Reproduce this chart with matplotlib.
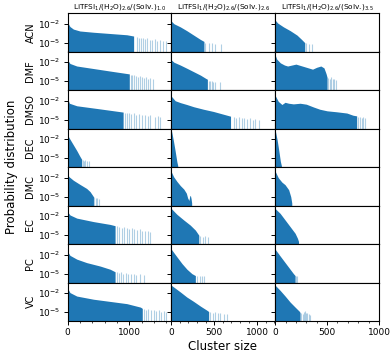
import numpy as np
import matplotlib
matplotlib.use("Agg")
import matplotlib.pyplot as plt
from matplotlib.ticker import AutoMinorLocator

solvents = ["ACN", "DMF", "DMSO", "DEC", "DMC", "EC", "PC", "VC"]
col_titles = ["LiTFSI$_1$/(H$_2$O)$_{2.6}$/(Solv.)$_{1.0}$",
              "LiTFSI$_1$/(H$_2$O)$_{2.6}$/(Solv.)$_{2.6}$",
              "LiTFSI$_1$/(H$_2$O)$_{2.6}$/(Solv.)$_{3.5}$"]
x_limits = [1680, 1210, 1000]
x_ticks = [[0, 1000], [0, 500, 1000], [0, 500, 1000]]

# body envelope: cluster size and log10(probability), one list per column
ACN_size = [[1, 40, 95, 200, 420, 690, 960, 1070],
            [1, 30, 105, 180, 260, 340, 380],
            [1, 25, 80, 145, 210, 255, 285]]
ACN_logp = [[-1.8, -2.45, -2.85, -3.15, -3.35, -3.55, -3.75, -3.95],
            [-1.6, -2.0, -2.5, -3.1, -3.8, -4.5, -4.8],
            [-1.45, -1.9, -2.5, -3.1, -3.8, -4.5, -5.0]]
ACN_tail_size = [[1130, 1160, 1190, 1215, 1250, 1290, 1330, 1370, 1410, 1450, 1500, 1540, 1600],
                 [396, 435, 473, 512, 578],
                 [300, 330, 352]]
ACN_tail_logp = [[-4.1, -4.2, -4.3, -4.2, -4.4, -4.3, -4.5, -4.6, -4.4, -4.7, -4.6, -4.8, -4.7],
                 [-5.0, -5.1, -5.0, -5.2, -5.2],
                 [-5.1, -5.2, -5.2]]

DMF_size = [[1, 40, 150, 420, 690, 1000],
            [1, 30, 105, 180, 260, 340, 400, 420],
            [1, 15, 50, 90, 120, 160, 200, 240, 280, 320, 360, 400, 440, 470, 490, 500]]
DMF_logp = [[-1.65, -2.2, -2.6, -3.0, -3.4, -3.85],
            [-1.65, -2.0, -2.45, -2.95, -3.5, -4.05, -4.55, -4.7],
            [-0.9, -1.5, -2.1, -2.45, -2.6, -2.45, -2.3, -2.5, -2.7, -2.9, -3.1, -2.8, -2.6, -2.9, -3.8, -4.4]]
DMF_tail_size = [[1020, 1050, 1080, 1110, 1140, 1170, 1200, 1240, 1275, 1310, 1340, 1385],
                 [435, 455, 473, 490, 512, 563],
                 [510, 525, 540, 555, 570, 590]]
DMF_tail_logp = [[-4.0, -4.1, -4.0, -4.2, -4.3, -4.2, -4.4, -4.5, -4.4, -4.6, -4.5, -4.7],
                 [-4.9, -5.0, -5.0, -5.1, -5.1, -5.2],
                 [-4.5, -4.6, -4.4, -4.6, -4.7, -4.8]]

DMSO_size = [[1, 30, 150, 530, 900],
             [1, 45, 105, 180, 260, 375, 490, 610, 690],
             [1, 30, 65, 95, 130, 175, 240, 300, 370, 430, 500, 590, 690, 750, 785]]
DMSO_logp = [[-1.6, -2.4, -2.8, -3.3, -3.8],
             [-1.3, -2.0, -2.3, -2.6, -2.95, -3.35, -3.7, -4.15, -4.45],
             [-1.2, -2.1, -2.6, -2.25, -2.4, -2.5, -2.4, -2.55, -3.0, -3.35, -3.6, -3.75, -3.95, -4.3, -4.4]]
DMSO_tail_size = [[930, 960, 990, 1030, 1070, 1110, 1150, 1200, 1250, 1300, 1340, 1420, 1470, 1500],
                  [730, 757, 784, 822, 850, 880, 919, 951, 978, 1017],
                  [800, 816, 832, 848, 864]]
DMSO_tail_logp = [[-3.9, -4.0, -3.9, -4.1, -4.0, -4.2, -4.1, -4.3, -4.2, -4.4, -4.3, -4.5, -4.4, -4.6],
                  [-4.6, -4.7, -4.6, -4.8, -4.7, -4.9, -4.8, -5.0, -4.9, -5.0],
                  [-4.6, -4.5, -4.7, -4.6, -4.7]]

DEC_size = [[1, 10, 40, 95, 150, 200, 230],
            [1, 25, 45, 65, 75],
            [1, 20, 35, 50, 60]]
DEC_logp = [[-1.0, -1.5, -2.0, -2.9, -3.8, -4.7, -5.2],
            [-0.6, -2.3, -3.9, -5.6, -6.2],
            [-0.6, -2.2, -3.8, -5.5, -6.2]]
DEC_tail_size = [[250, 270, 290, 315, 340], [], []]
DEC_tail_logp = [[-5.3, -5.4, -5.3, -5.5, -5.5], [], []]

DMC_size = [[1, 20, 95, 200, 310, 365, 420],
            [1, 27, 66, 105, 145, 175, 190, 205, 215, 222, 230, 237],
            [1, 30, 65, 95, 130, 150, 160]]
DMC_logp = [[-1.2, -1.8, -2.4, -3.05, -3.7, -4.2, -5.0],
            [-1.1, -1.85, -2.6, -3.25, -3.8, -4.45, -5.2, -5.6, -4.9, -4.8, -5.3, -6.0],
            [-1.0, -2.0, -2.7, -3.1, -3.9, -5.0, -6.0]]
DMC_tail_size = [[430, 463, 484, 517], [], []]
DMC_tail_logp = [[-5.1, -5.2, -5.2, -5.3], [], []]

EC_size = [[1, 40, 150, 420, 690, 770],
           [1, 65, 145, 220, 280, 320],
           [1, 48, 96, 144, 192, 215, 225]]
EC_logp = [[-1.3, -1.8, -2.3, -2.85, -3.3, -3.5],
           [-0.8, -1.7, -2.6, -3.4, -4.2, -5.0],
           [-0.8, -1.55, -2.6, -3.65, -4.7, -5.5, -6.0]]
EC_tail_size = [[800, 840, 880, 915, 960, 1000, 1040, 1080, 1120, 1165, 1205, 1260, 1295, 1340],
                [338, 369, 396, 423],
                []]
EC_tail_logp = [[-3.6, -3.7, -3.8, -3.7, -3.9, -4.0, -3.9, -4.1, -4.2, -4.1, -4.3, -4.4, -4.3, -4.5],
                [-5.2, -5.3, -5.2, -5.3],
                []]

PC_size = [[1, 40, 150, 310, 530, 690, 770],
           [1, 66, 124, 182, 240, 280],
           [1, 48, 96, 144, 176, 192]]
PC_logp = [[-1.5, -2.1, -2.7, -3.25, -3.8, -4.3, -4.7],
           [-1.15, -2.35, -3.4, -4.3, -5.0, -5.3],
           [-1.15, -2.2, -3.25, -4.3, -5.0, -5.3]]
PC_tail_size = [[800, 830, 870, 905, 950, 985, 1025, 1070, 1110, 1165, 1230],
                [300, 330, 357, 384],
                [202, 214]]
PC_tail_logp = [[-4.8, -4.9, -4.8, -5.0, -4.9, -5.1, -5.0, -5.1, -5.2, -5.1, -5.2],
                [-5.3, -5.4, -5.3, -5.4],
                [-5.4, -5.4]]

VC_size = [[1, 40, 150, 420, 690, 960, 1180, 1210],
           [1, 105, 180, 260, 340, 415, 435],
           [1, 48, 96, 144, 192, 235, 240]]
VC_logp = [[-1.2, -1.9, -2.45, -2.95, -3.3, -3.65, -4.2, -4.4],
           [-0.75, -1.8, -2.6, -3.3, -4.05, -4.7, -4.9],
           [-0.75, -1.55, -2.45, -3.4, -4.2, -4.9, -5.1]]
VC_tail_size = [[1230, 1275, 1310, 1350, 1395, 1435, 1475, 1510, 1555, 1600],
                [455, 485, 510, 540, 570, 610, 648],
                [250, 265, 280, 290, 298, 310, 322, 336]]
VC_tail_logp = [[-4.5, -4.6, -4.5, -4.7, -4.6, -4.8, -4.7, -4.9, -4.8, -5.0],
                [-5.0, -5.1, -5.0, -5.2, -5.1, -5.3, -5.3],
                [-5.2, -5.3, -4.9, -4.8, -5.1, -5.2, -5.3, -5.4]]

body_size = {"ACN": ACN_size, "DMF": DMF_size, "DMSO": DMSO_size, "DEC": DEC_size,
             "DMC": DMC_size, "EC": EC_size, "PC": PC_size, "VC": VC_size}
body_logp = {"ACN": ACN_logp, "DMF": DMF_logp, "DMSO": DMSO_logp, "DEC": DEC_logp,
             "DMC": DMC_logp, "EC": EC_logp, "PC": PC_logp, "VC": VC_logp}
tail_size = {"ACN": ACN_tail_size, "DMF": DMF_tail_size, "DMSO": DMSO_tail_size, "DEC": DEC_tail_size,
             "DMC": DMC_tail_size, "EC": EC_tail_size, "PC": PC_tail_size, "VC": VC_tail_size}
tail_logp = {"ACN": ACN_tail_logp, "DMF": DMF_tail_logp, "DMSO": DMSO_tail_logp, "DEC": DEC_tail_logp,
             "DMC": DMC_tail_logp, "EC": EC_tail_logp, "PC": PC_tail_logp, "VC": VC_tail_logp}

color = "#1f77b4"
y_low, y_high = 10 ** -6.4, 10 ** -0.3
floor = 1e-9

W, H = 392, 354
fig, axes = plt.subplots(8, 3, figsize=(W / 100, H / 100), dpi=100,
                         sharex="col", sharey=True)
fig.subplots_adjust(left=67.5 / W, right=379 / W, top=1 - 13 / H, bottom=1 - 321 / H,
                    wspace=0, hspace=0)

for r, name in enumerate(solvents):
    for c in range(3):
        ax = axes[r, c]
        xs = np.array(body_size[name][c], dtype=float)
        ps = 10.0 ** np.array(body_logp[name][c])
        ax.fill_between(xs, ps, floor, color=color, linewidth=0)
        tx = np.array(tail_size[name][c], dtype=float)
        tp = 10.0 ** np.array(tail_logp[name][c]) if len(tail_logp[name][c]) else np.array([])
        if len(tx):
            ax.vlines(tx, floor, tp, color=color, alpha=0.35, linewidth=0.8)
        ax.set_yscale("log")
        ax.set_ylim(y_low, y_high)
        ax.set_xlim(0, x_limits[c])
        ax.set_xticks(x_ticks[c])
        ax.xaxis.set_minor_locator(AutoMinorLocator())
        ax.set_yticks([1e-2, 1e-5])
        ax.tick_params(which="major", length=3, width=0.7, labelsize=6.5, pad=2)
        ax.tick_params(which="minor", length=1.6, width=0.5)
        if c == 0:
            ax.set_ylabel(name, fontsize=7, labelpad=2)
        if r == 0:
            ax.set_title(col_titles[c], fontsize=5.3, pad=3)
        for s in ax.spines.values():
            s.set_linewidth(0.8)

fig.text(12 / W, 1 - 167 / H, "Probability distribution", rotation=90,
         ha="center", va="center", fontsize=8.5)
fig.text(223 / W, 1 - 347 / H, "Cluster size", ha="center", va="center", fontsize=8.5)

fig.savefig("out.png", dpi=100)
